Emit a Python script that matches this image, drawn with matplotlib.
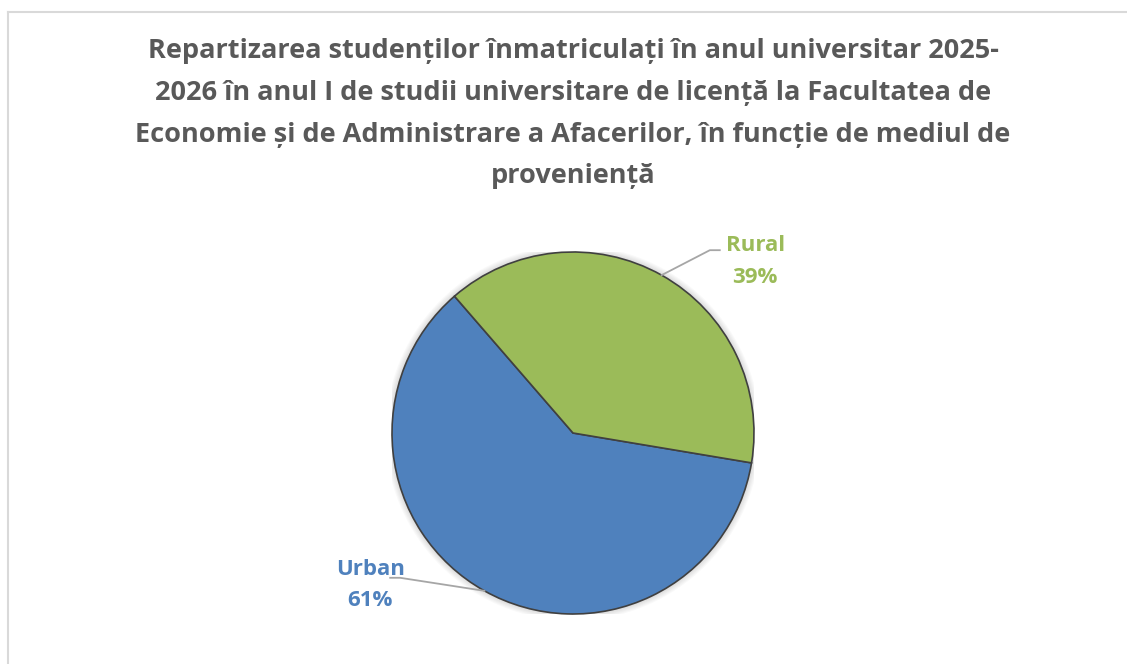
import numpy as np
import matplotlib
matplotlib.use("Agg")
import matplotlib.pyplot as plt
from matplotlib.lines import Line2D

plt.rcParams['font.family'] = ['Open Sans', 'DejaVu Sans']

# data
labels = ["Urban", "Rural"]
shares = [61, 39]
colors = ["#4F81BD", "#9BBB59"]
title = ("Repartizarea studenților înmatriculați în anul universitar 2025-\n"
         "2026 în anul I de studii universitare de licență la Facultatea de\n"
         "Economie și de Administrare a Afacerilor, în funcție de mediul de\n"
         "proveniență")

W, H = 1127, 664
fig = plt.figure(figsize=(W / 100, H / 100), dpi=100)

# chart frame (only top and left edges are visible)
fig.add_artist(Line2D([7.5 / W, 7.5 / W], [0, 1 - 12 / H], color="#D9D9D9", lw=1.5))
fig.add_artist(Line2D([7.5 / W, 1], [1 - 12 / H, 1 - 12 / H], color="#D9D9D9", lw=1.5))

fig.text(573 / W, 1 - 38 / H, title, ha="center", va="top", fontsize=19.5,
         fontweight="bold", color="#595959", linespacing=1.79)

# pie axes: centre (573, 433), radius 181 px
cx, cy, r = 573, 433, 181
ax = fig.add_axes([(cx - r) / W, (H - cy - r) / H, 2 * r / W, 2 * r / H])

# soft shadow around pie
for k in range(6):
    ax.add_patch(plt.Circle((0, 0), 1 + 0.006 * (k + 1), color="black",
                            alpha=0.025, lw=0, zorder=0))

wedges, _ = ax.pie(shares, colors=colors, startangle=-9.5, counterclock=False,
                   wedgeprops=dict(edgecolor="#404040", linewidth=1.2))
ax.set_xlim(-1, 1)
ax.set_ylim(-1, 1)
ax.set_aspect("equal")

# labels with leader lines
text_pos = {"Rural": (1.006, 0.948), "Urban": (-1.12, -0.84)}
for w, lab, val, col in zip(wedges, labels, shares, colors):
    ang = np.deg2rad((w.theta1 + w.theta2) / 2)
    px, py = np.cos(ang), np.sin(ang)
    tx, ty = text_pos[lab]
    if lab == "Rural":
        xs = [px, tx - 0.25, tx - 0.195]
        ys = [py, ty + 0.062, ty + 0.062]
    else:
        xs = [px, tx + 0.165, tx + 0.11]
        ys = [py, ty + 0.04, ty + 0.04]
    ax.plot(xs, ys, color="#A6A6A6", lw=1.3, clip_on=False)
    ax.text(tx, ty, f"{lab}\n{val}%", ha="center", va="center", fontsize=16,
            fontweight="bold", color=col, linespacing=1.65)

fig.savefig("out.png", dpi=100)
